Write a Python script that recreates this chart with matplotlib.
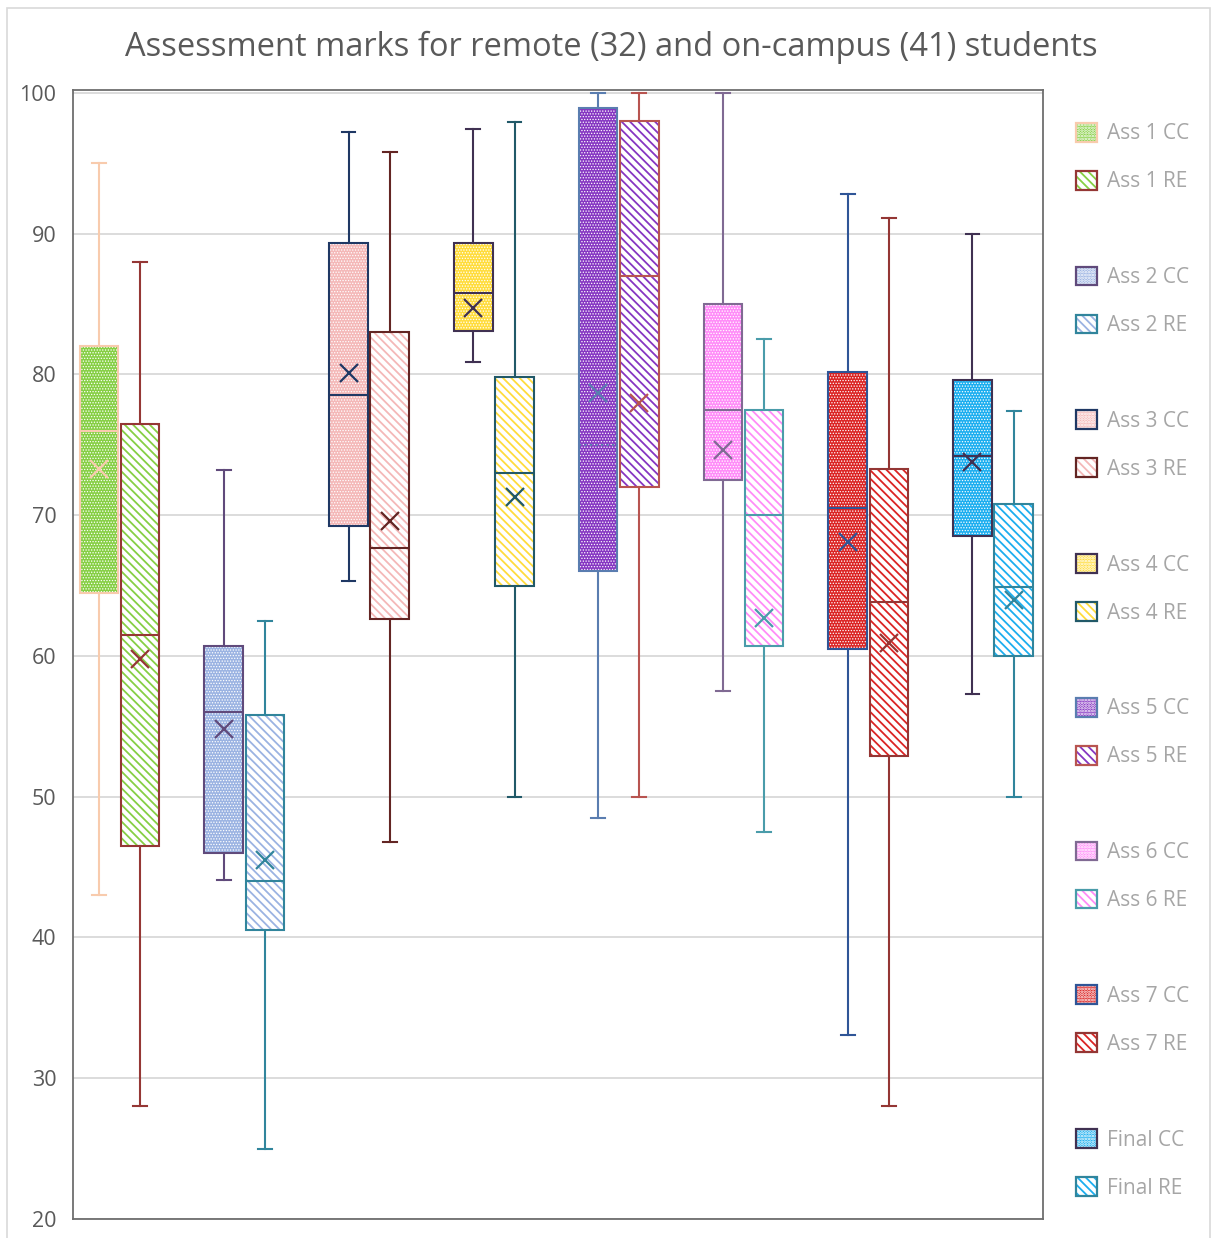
import matplotlib
matplotlib.use("Agg")
import matplotlib.pyplot as plt
from matplotlib.patches import Patch, Rectangle
from matplotlib.legend_handler import HandlerTuple

plt.rcParams['font.family'] = ['Open Sans', 'DejaVu Sans']
plt.rcParams['hatch.linewidth'] = 1.3

# ---- data ----
assessments = ["Ass 1", "Ass 2", "Ass 3", "Ass 4", "Ass 5", "Ass 6", "Ass 7", "Final"]
# on-campus (CC)
cc_whislo = [43.0, 44.1, 65.3, 80.9, 48.5, 57.5, 33.1, 57.3]
cc_q1     = [64.5, 46.0, 69.2, 83.1, 66.0, 72.5, 60.5, 68.5]
cc_med    = [76.0, 56.0, 78.5, 85.8, 75.0, 77.5, 70.5, 74.2]
cc_q3     = [82.0, 60.7, 89.3, 89.3, 98.9, 85.0, 80.2, 79.6]
cc_whishi = [95.0, 73.2, 97.2, 97.4, 100.0, 100.0, 92.8, 90.0]
cc_mean   = [73.3, 54.8, 80.1, 84.7, 78.7, 74.6, 68.1, 73.8]
# remote (RE)
re_whislo = [28.0, 25.0, 46.8, 50.0, 50.0, 47.5, 28.0, 50.0]
re_q1     = [46.5, 40.5, 62.6, 65.0, 72.0, 60.7, 52.9, 60.0]
re_med    = [61.5, 44.0, 67.7, 73.0, 87.0, 70.0, 63.8, 64.9]
re_q3     = [76.5, 55.8, 83.0, 79.8, 98.0, 77.5, 73.3, 70.8]
re_whishi = [88.0, 62.5, 95.8, 97.9, 100.0, 82.5, 91.1, 77.4]
re_mean   = [59.75, 45.5, 69.6, 71.3, 78.0, 62.7, 60.9, 64.0]

yticks = [20, 30, 40, 50, 60, 70, 80, 90, 100]

# ---- styles ----
fills = ['#86CF44', '#9BB3E2', '#F4B8B8', '#FFDC3C', '#8636C2', '#FF8CF8', '#DB2424', '#1CAEEF']
cc_edges = ['#F8CBAD', '#604A7B', '#1F3864', '#403152', '#5A7DB0', '#806A93', '#2F5597', '#403152']
re_edges = ['#953735', '#31859C', '#632523', '#215968', '#B85450', '#4A9CAA', '#943634', '#31859C']
cc_median_ls = ['-', '-', '-', '-', ':', '-', '-', '-']
CC_HATCH = '......'
RE_HATCH = '\\\\\\\\'
CC_HLW = 0.6
RE_HLW = 1.3

fig = plt.figure(figsize=(12.12, 12.38), dpi=100)
ax = fig.add_axes([73/1212, 1-1219/1238, (1043-73)/1212, (1219-90)/1238])

offset = 0.165
width = 0.31

def draw_box(pos, stat, fill, edge, re, med_ls='-'):
    plt.rcParams['hatch.linewidth'] = RE_HLW if re else CC_HLW
    # fill layer with hatch
    ax.bxp([stat], positions=[pos], widths=width, patch_artist=True,
           showcaps=False, showfliers=False, showmeans=False,
           boxprops=dict(facecolor='white' if re else fill,
                         edgecolor=fill if re else 'white',
                         hatch=RE_HATCH if re else CC_HATCH, linewidth=0),
           whiskerprops=dict(linewidth=0), medianprops=dict(linewidth=0),
           manage_ticks=False, zorder=2)
    # outline layer
    ax.bxp([stat], positions=[pos], widths=width, patch_artist=True,
           showcaps=True, showfliers=False, showmeans=True, capwidths=0.11,
           boxprops=dict(facecolor='none', edgecolor=edge, linewidth=1.5),
           whiskerprops=dict(color=edge, linewidth=1.5),
           capprops=dict(color=edge, linewidth=1.5),
           medianprops=dict(color=edge, linewidth=1.5, linestyle=med_ls),
           meanprops=dict(marker='x', markeredgecolor=edge, markersize=13,
                          markeredgewidth=1.6, linestyle='none'),
           manage_ticks=False, zorder=3)

for i in range(len(assessments)):
    cc = dict(med=cc_med[i], q1=cc_q1[i], q3=cc_q3[i], whislo=cc_whislo[i],
              whishi=cc_whishi[i], mean=cc_mean[i], fliers=[])
    re = dict(med=re_med[i], q1=re_q1[i], q3=re_q3[i], whislo=re_whislo[i],
              whishi=re_whishi[i], mean=re_mean[i], fliers=[])
    draw_box(i - offset, cc, fills[i], cc_edges[i], False, cc_median_ls[i])
    draw_box(i + offset, re, fills[i], re_edges[i], True)

ax.set_xlim(-0.373, 7.40)
ax.set_ylim(20, 100.2)
ax.set_yticks(yticks)
ax.set_xticks([])
ax.tick_params(axis='y', length=0, pad=12, labelsize=15.5, labelcolor='#595959')
ax.yaxis.grid(True, color='#D9D9D9', linewidth=1.3)
ax.set_axisbelow(True)
for s in ax.spines.values():
    s.set_color('#6E6E6E')
    s.set_linewidth(1.3)

fig.text(611/1212, 1-47/1238, "Assessment marks for remote (32) and on-campus (41) students",
         ha='center', va='center', fontsize=23.5, color='#595959')

# legend
handles = []
labels = []
for i, a in enumerate(assessments):
    plt.rcParams['hatch.linewidth'] = CC_HLW
    handles.append((Patch(facecolor=fills[i], edgecolor='white', hatch=CC_HATCH, linewidth=0),
                    Patch(facecolor='none', edgecolor=cc_edges[i], linewidth=1.6)))
    labels.append(f"{a} CC")
    plt.rcParams['hatch.linewidth'] = RE_HLW
    handles.append((Patch(facecolor='white', edgecolor=fills[i], hatch=RE_HATCH, linewidth=0),
                    Patch(facecolor='none', edgecolor=re_edges[i], linewidth=1.6)))
    labels.append(f"{a} RE")
    if i < len(assessments) - 1:
        handles.append(Patch(visible=False))
        labels.append(' ')
leg = fig.legend(handles, labels, loc='upper left', bbox_to_anchor=(1076/1212, 1-123/1238),
                 frameon=False, fontsize=15, handlelength=1.0, handleheight=1.0,
                 handletextpad=0.5, labelspacing=1.27, borderpad=0, borderaxespad=0,
                 labelcolor='#A6A6A6',
                 handler_map={tuple: HandlerTuple(ndivide=1, pad=0)})

fig.patches.append(Rectangle((7/1212, -0.01), (1210-7)/1212, 1 - 8/1238 + 0.01,
                             transform=fig.transFigure, fill=False,
                             edgecolor='#D9D9D9', linewidth=1.2))
fig.savefig("out.png", dpi=100)
